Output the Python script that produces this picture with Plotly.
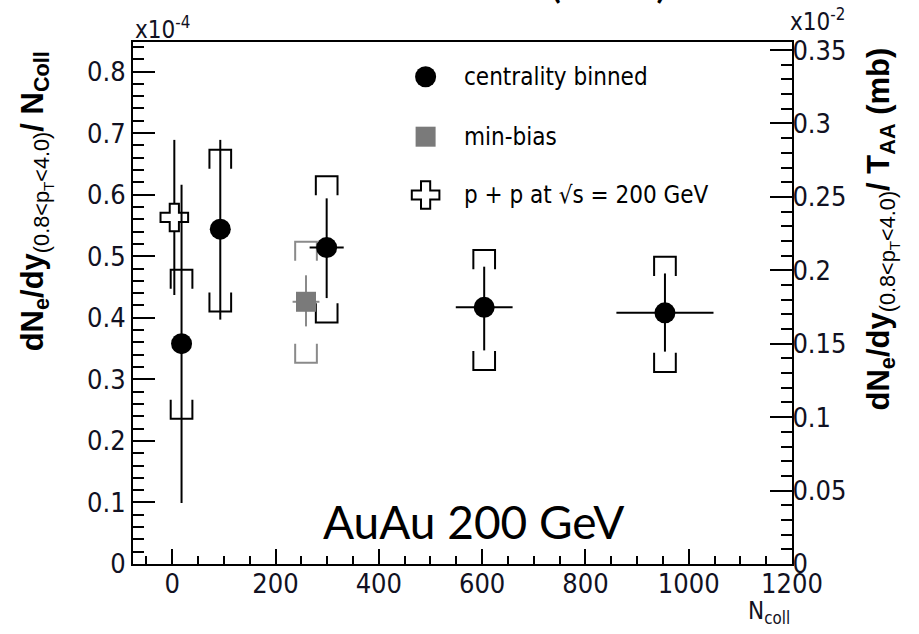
import plotly.graph_objects as go

# ---------------- data (units: x10^-4 on left axis) ----------------
ncoll_cent = [18, 93, 299, 604, 954]
y_cent = [0.358, 0.544, 0.514, 0.417, 0.408]
stat_up_cent = [0.258, 0.145, 0.080, 0.066, 0.064]
stat_dn_cent = [0.259, 0.147, 0.082, 0.070, 0.063]
xerr_cent = [0, 0, 33, 55, 94]
sys_hi_cent = [0.478, 0.673, 0.630, 0.510, 0.499]
sys_lo_cent = [0.236, 0.410, 0.3925, 0.315, 0.312]

ncoll_mb = [259]
y_mb = [0.426]
stat_up_mb = [0.043]
stat_dn_mb = [0.040]
xerr_mb = [26]
sys_hi_mb = [0.5236]
sys_lo_mb = [0.327]

ncoll_pp = [4]
y_pp = [0.563]
stat_up_pp = [0.126]
stat_dn_pp = [0.126]

legend_labels = ["centrality binned", "min-bias", "p + p at \u221As = 200 GeV"]

x_ticks = [0, 200, 400, 600, 800, 1000, 1200]
yl_ticks = [0, 0.1, 0.2, 0.3, 0.4, 0.5, 0.6, 0.7, 0.8]
yr_ticks = [0, 0.05, 0.1, 0.15, 0.2, 0.25, 0.3, 0.35]

# ---------------- styles ----------------
NARROW = "Liberation Sans Narrow, Arial Narrow, DejaVu Sans Condensed, sans-serif"
BOLD = "Liberation Sans, Arial, sans-serif"
XR = [-76, 1200]
YR = [0, 0.848]
YR2 = [0, 0.3555]
BR_HW = 21      # bracket half width (x units)
BR_LEG = 0.031  # bracket leg (y units)


def brackets(xs, his, los):
    bx, by = [], []
    for x, hi, lo in zip(xs, his, los):
        bx += [x - BR_HW, x - BR_HW, x + BR_HW, x + BR_HW, None]
        by += [hi - BR_LEG, hi, hi, hi - BR_LEG, None]
        bx += [x - BR_HW, x - BR_HW, x + BR_HW, x + BR_HW, None]
        by += [lo + BR_LEG, lo, lo, lo + BR_LEG, None]
    return bx, by


fig = go.Figure()

bx, by = brackets(ncoll_mb, sys_hi_mb, sys_lo_mb)
fig.add_trace(go.Scatter(x=bx, y=by, mode="lines", line=dict(color="#8a8a8a", width=2),
                         showlegend=False, hoverinfo="skip"))
bx, by = brackets(ncoll_cent, sys_hi_cent, sys_lo_cent)
fig.add_trace(go.Scatter(x=bx, y=by, mode="lines", line=dict(color="black", width=2),
                         showlegend=False, hoverinfo="skip"))

fig.add_trace(go.Scatter(
    x=ncoll_mb, y=y_mb, mode="markers",
    marker=dict(symbol="square", size=20, color="#7a7a7a"),
    error_y=dict(type="data", symmetric=False, array=stat_up_mb, arrayminus=stat_dn_mb,
                 color="#8a8a8a", thickness=2, width=0),
    error_x=dict(type="data", array=xerr_mb, color="#8a8a8a", thickness=2, width=0),
    showlegend=False))

fig.add_trace(go.Scatter(
    x=ncoll_pp, y=y_pp, mode="markers",
    marker=dict(symbol="cross", size=23, color="white", line=dict(color="black", width=2)),
    error_y=dict(type="data", symmetric=False, array=stat_up_pp, arrayminus=stat_dn_pp,
                 color="black", thickness=2, width=0),
    showlegend=False))

fig.add_trace(go.Scatter(
    x=ncoll_cent, y=y_cent, mode="markers",
    marker=dict(symbol="circle", size=21, color="black"),
    error_y=dict(type="data", symmetric=False, array=stat_up_cent, arrayminus=stat_dn_cent,
                 color="black", thickness=2, width=0),
    error_x=dict(type="data", array=xerr_cent, color="black", thickness=2, width=0),
    showlegend=False))

# dummy trace for right axis
fig.add_trace(go.Scatter(x=[None], y=[None], yaxis="y2", showlegend=False))

# manual legend on an overlay axis [0,1]x[0,1]
leg_x = [0.444, 0.444, 0.444]
leg_y = [0.9335, 0.8186, 0.7069]
leg_sym = ["circle", "square", "cross"]
leg_size = [21, 20, 23]
leg_col = ["black", "#7a7a7a", "white"]
leg_line = [0, 0, 2]
for i in range(3):
    fig.add_trace(go.Scatter(
        x=[leg_x[i]], y=[leg_y[i]], xaxis="x3", yaxis="y3", mode="markers",
        marker=dict(symbol=leg_sym[i], size=leg_size[i], color=leg_col[i],
                    line=dict(color="black", width=leg_line[i])),
        showlegend=False, hoverinfo="skip"))
    fig.add_annotation(x=0.4993, y=leg_y[i], xref="paper", yref="paper", xanchor="left",
                       yanchor="middle", text=legend_labels[i], showarrow=False,
                       font=dict(family=NARROW, size=24, color="black"))

tickfont = dict(family=NARROW, size=27, color="#111122")

fig.update_layout(
    width=919, height=634,
    margin=dict(l=133, r=127, t=42, b=70, autoexpand=False),
    paper_bgcolor="white", plot_bgcolor="white",
    showlegend=False,
    xaxis=dict(range=XR, tickvals=x_ticks, ticks="inside", ticklen=15, tickwidth=2,
               tickcolor="black", showline=True, linewidth=2, linecolor="black",
               mirror=True, showgrid=False, zeroline=False, tickfont=tickfont,
               ticklabelstandoff=-5,
               minor=dict(dtick=50, tick0=0, ticks="inside", ticklen=8, tickwidth=2,
                          tickcolor="black", showgrid=False),
               automargin=False),
    yaxis=dict(range=YR, tickvals=yl_ticks, ticks="inside", ticklen=22, tickwidth=2,
               tickcolor="black", showline=True, linewidth=2, linecolor="black",
               showgrid=False, zeroline=False, tickfont=tickfont,
               minor=dict(dtick=0.02, tick0=0, ticks="inside", ticklen=11, tickwidth=2,
                          tickcolor="black", showgrid=False),
               automargin=False),
    yaxis2=dict(range=YR2, overlaying="y", side="right", tickvals=yr_ticks, ticks="inside",
                ticklen=22, tickwidth=2, tickcolor="black", showline=True, linewidth=2,
                linecolor="black", showgrid=False, zeroline=False, tickfont=tickfont,
                ticklabelstandoff=-7,
                minor=dict(dtick=0.01, tick0=0, ticks="inside", ticklen=11, tickwidth=2,
                           tickcolor="black", showgrid=False),
                automargin=False),
    xaxis3=dict(range=[0, 1], overlaying="x", visible=False, domain=[0, 1]),
    yaxis3=dict(range=[0, 1], overlaying="y", visible=False, domain=[0, 1]),
)

# exponent labels
fig.add_annotation(x=0, y=1, xref="paper", yref="paper", xanchor="left", yanchor="bottom",
                   text="x10<sup>-4</sup>", showarrow=False, yshift=-4,
                   font=dict(family=NARROW, size=24, color="#111122"))
fig.add_annotation(x=1, y=1, xref="paper", yref="paper", xanchor="left", yanchor="bottom",
                   text="x10<sup>-2</sup>", showarrow=False, xshift=-4, yshift=4,
                   font=dict(family=NARROW, size=24, color="#111122"))

# axis titles
fig.add_annotation(x=-0.147, y=0.695, xref="paper", yref="paper", textangle=-90,
                   xanchor="center", yanchor="middle",
                   text="<b>dN<sub>e</sub>/dy</b><sub>(0.8&lt;p<sub>T</sub>&lt;4.0)</sub><b>/ N<sub>Coll</sub></b>",
                   showarrow=False, font=dict(family=BOLD, size=31, color="black"))
fig.add_annotation(x=1.136, y=0.642, xref="paper", yref="paper", textangle=-90,
                   xanchor="center", yanchor="middle",
                   text="<b>dN<sub>e</sub>/dy</b><sub>(0.8&lt;p<sub>T</sub>&lt;4.0)</sub><b>/ T<sub>AA</sub> (mb)</b>",
                   showarrow=False, font=dict(family=BOLD, size=31, color="black"))
fig.add_annotation(x=0.93, y=-0.06, xref="paper", yref="paper", xanchor="left", yanchor="top",
                   text="N<sub>coll</sub>", showarrow=False,
                   font=dict(family=NARROW, size=24, color="#111122"))

# caption
fig.add_annotation(x=0.285, y=0.0805, xref="paper", yref="paper", xanchor="left", yanchor="middle",
                   text="AuAu 200 GeV", showarrow=False,
                   font=dict(family="Lato, Open Sans, sans-serif", size=46, color="black"))

# cut-off slide title fragment at the very top
fig.add_annotation(x=(555 - 133) / 659, y=(564 - 9) / 522, xref="paper", yref="paper",
                   xanchor="center", yanchor="bottom", text="(", showarrow=False,
                   font=dict(family="Lato, Open Sans, sans-serif", size=46, color="black"))
fig.add_annotation(x=(662 - 133) / 659, y=(564 - 9) / 522, xref="paper", yref="paper",
                   xanchor="center", yanchor="bottom", text=")", showarrow=False,
                   font=dict(family="Lato, Open Sans, sans-serif", size=46, color="black"))

fig.write_html("out.html")
